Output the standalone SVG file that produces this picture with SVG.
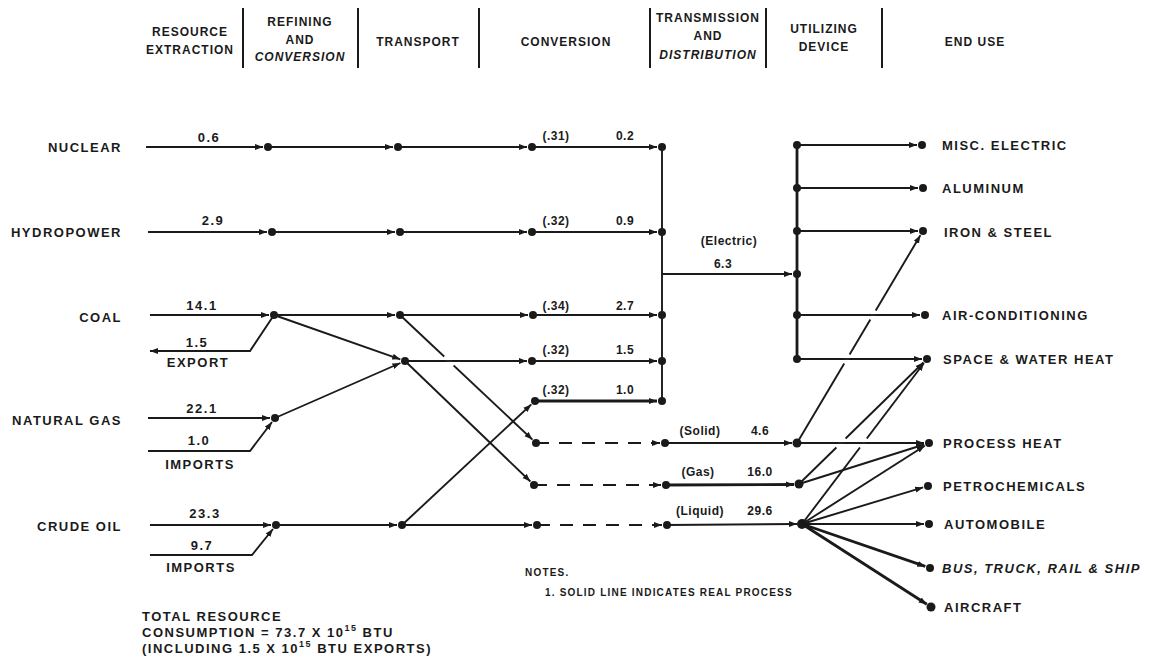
<svg xmlns="http://www.w3.org/2000/svg" width="1150" height="670" viewBox="0 0 1150 670">
<defs>
<marker id="arr" markerUnits="userSpaceOnUse" markerWidth="9" markerHeight="7" refX="8" refY="3.5" orient="auto">
<path d="M0,0.5 L8,3.5 L0,6.5 z" fill="#1a1a1a"/>
</marker>
<style>
.ln{stroke:#1a1a1a;stroke-width:1.9;fill:none}
.hv{stroke-width:2.8}
.da{stroke-dasharray:13 10}
.gap{stroke:#ffffff;stroke-width:4;fill:none}
.dot{fill:#1a1a1a}
.t{font-family:"Liberation Sans",Arial,Helvetica,sans-serif;font-weight:bold;font-size:13px;letter-spacing:1.5px;fill:#1a1a1a}
.h{font-size:12px;letter-spacing:1px}
.s{font-size:12px;letter-spacing:0.5px}
.n{font-size:10px;letter-spacing:1.2px}
.i{font-style:italic}
.m{text-anchor:middle}
.e{text-anchor:end}
.div{stroke:#1a1a1a;stroke-width:2}
</style>
</defs>
<rect width="1150" height="670" fill="#ffffff"/>

<g id="header">
<line class="div" x1="243" y1="8" x2="243" y2="68"/>
<line class="div" x1="358" y1="8" x2="358" y2="68"/>
<line class="div" x1="479" y1="8" x2="479" y2="68"/>
<line class="div" x1="650" y1="8" x2="650" y2="68"/>
<line class="div" x1="766" y1="8" x2="766" y2="68"/>
<line class="div" x1="882" y1="8" x2="882" y2="68"/>
<text class="t h m" x="190" y="36">RESOURCE</text>
<text class="t h m" x="190" y="54">EXTRACTION</text>
<text class="t h m" x="300" y="26">REFINING</text>
<text class="t h m" x="300" y="44">AND</text>
<text class="t h m i" x="300" y="61">CONVERSION</text>
<text class="t h m" x="418" y="46">TRANSPORT</text>
<text class="t h m" x="566" y="46">CONVERSION</text>
<text class="t h m" x="708" y="22">TRANSMISSION</text>
<text class="t h m" x="708" y="40">AND</text>
<text class="t h m i" x="708" y="59">DISTRIBUTION</text>
<text class="t h m" x="824" y="33">UTILIZING</text>
<text class="t h m" x="824" y="51">DEVICE</text>
<text class="t h m" x="975" y="46">END USE</text>
</g>

<g id="connectors">
<!-- nuclear -->
<line class="ln" x1="146" y1="147" x2="263" y2="147" marker-end="url(#arr)"/>
<line class="ln" x1="268" y1="147" x2="393" y2="147" marker-end="url(#arr)"/>
<line class="ln" x1="398" y1="147" x2="527" y2="147" marker-end="url(#arr)"/>
<line class="ln" x1="532" y1="147" x2="657" y2="147" marker-end="url(#arr)"/>
<!-- hydro -->
<line class="ln" x1="148" y1="232" x2="267" y2="232" marker-end="url(#arr)"/>
<line class="ln" x1="272" y1="232" x2="395" y2="232" marker-end="url(#arr)"/>
<line class="ln" x1="400" y1="232" x2="527" y2="232" marker-end="url(#arr)"/>
<line class="ln" x1="532" y1="232" x2="657" y2="232" marker-end="url(#arr)"/>
<!-- coal -->
<line class="ln" x1="150" y1="315" x2="269" y2="315" marker-end="url(#arr)"/>
<path class="ln" d="M274,315 L250,351 L150,351" marker-end="url(#arr)"/>
<line class="ln" x1="274" y1="315" x2="395" y2="315" marker-end="url(#arr)"/>
<line class="ln" x1="274" y1="315" x2="400.3" y2="359.3" marker-end="url(#arr)"/>
<line class="ln" x1="400" y1="315" x2="528" y2="315" marker-end="url(#arr)"/>
<line class="ln" x1="533" y1="315" x2="657" y2="315" marker-end="url(#arr)"/>
<line class="ln" x1="400" y1="315" x2="532.4" y2="439.6" marker-end="url(#arr)"/>
<!-- natural gas -->
<line class="ln" x1="148" y1="418" x2="270" y2="418" marker-end="url(#arr)"/>
<path class="ln" d="M148,451 L250,451 L272,422" marker-end="url(#arr)"/>
<line class="ln" x1="275" y1="418" x2="400.4" y2="363" marker-end="url(#arr)"/>
<line class="ln" x1="405" y1="361" x2="527" y2="361" marker-end="url(#arr)"/>
<line class="ln" x1="532" y1="361" x2="657" y2="361" marker-end="url(#arr)"/>
<line class="ln" x1="405" y1="361" x2="530.4" y2="481.5" marker-end="url(#arr)"/>
<!-- crude oil -->
<line class="ln" x1="150" y1="525" x2="271" y2="525" marker-end="url(#arr)"/>
<path class="ln" d="M150,555 L252,555 L273,529" marker-end="url(#arr)"/>
<line class="ln" x1="276" y1="525" x2="397" y2="525" marker-end="url(#arr)"/>
<line class="ln" x1="402" y1="525" x2="531.3" y2="404.4" marker-end="url(#arr)"/>
<line class="ln hv" x1="535" y1="401" x2="657" y2="401" marker-end="url(#arr)"/>
<line class="ln" x1="402" y1="525" x2="532" y2="525" marker-end="url(#arr)"/>
<!-- dashed distribution -->
<line class="ln da" x1="536" y1="443" x2="660" y2="443" marker-end="url(#arr)"/>
<line class="ln da" x1="534" y1="485" x2="661" y2="485" marker-end="url(#arr)"/>
<line class="ln da" x1="537" y1="525" x2="662" y2="525" marker-end="url(#arr)"/>
<line class="ln" x1="665" y1="443" x2="792" y2="443" marker-end="url(#arr)"/>
<line class="ln hv" x1="666" y1="485" x2="794" y2="484.5" marker-end="url(#arr)"/>
<line class="ln" x1="667" y1="525" x2="797" y2="524" marker-end="url(#arr)"/>
<!-- electric bus -->
<line class="ln" x1="662" y1="147" x2="662" y2="401"/>
<line class="ln" x1="662" y1="274" x2="792" y2="274" marker-end="url(#arr)"/>
<line class="ln hv" x1="797" y1="145" x2="797" y2="359"/>
<line class="ln" x1="797" y1="145" x2="917" y2="145" marker-end="url(#arr)"/>
<line class="ln" x1="797" y1="188" x2="918" y2="188" marker-end="url(#arr)"/>
<line class="ln" x1="797" y1="231" x2="918" y2="231" marker-end="url(#arr)"/>
<line class="ln" x1="797" y1="315" x2="920" y2="315" marker-end="url(#arr)"/>
<line class="ln" x1="797" y1="359" x2="922" y2="359" marker-end="url(#arr)"/>
<!-- end use fan -->
<line class="ln" x1="797" y1="443" x2="920.4" y2="235.3" marker-end="url(#arr)"/>
<line class="ln" x1="797" y1="443" x2="924" y2="443" marker-end="url(#arr)"/>
<line class="ln" x1="799" y1="484" x2="924.2" y2="444.5" marker-end="url(#arr)"/>
<line class="ln" x1="799" y1="484" x2="923.4" y2="362.5" marker-end="url(#arr)"/>
<line class="ln" x1="802" y1="524" x2="924" y2="363" marker-end="url(#arr)"/>
<line class="ln" x1="802" y1="524" x2="924.8" y2="445.7" marker-end="url(#arr)"/>
<line class="ln" x1="802" y1="524" x2="923.2" y2="487.4" marker-end="url(#arr)"/>
<line class="ln" x1="802" y1="524" x2="924" y2="524" marker-end="url(#arr)"/>
<line class="ln hv" x1="802" y1="524" x2="925.3" y2="566.4" marker-end="url(#arr)"/>
<line class="ln hv" x1="802" y1="524" x2="926.8" y2="604.3" marker-end="url(#arr)"/>
<!-- crossing gaps (line passes over without joining) -->
<line class="gap" x1="444.2" y1="356.5" x2="453.6" y2="365.5"/>
<line class="ln" x1="440" y1="361" x2="458" y2="361"/>
<line class="gap" x1="849.6" y1="354.5" x2="844.2" y2="363.5"/>
<line class="ln" x1="840" y1="359" x2="854" y2="359"/>
<line class="gap" x1="875.7" y1="310.5" x2="870.3" y2="319.5"/>
<line class="ln" x1="866" y1="315" x2="880" y2="315"/>
<line class="gap" x1="845.6" y1="438.5" x2="836.4" y2="447.5"/>
<line class="ln" x1="833" y1="443" x2="849" y2="443"/>
<line class="gap" x1="866.8" y1="438.5" x2="860" y2="447.5"/>
<line class="ln" x1="856" y1="443" x2="871" y2="443"/>
</g>

<g id="src-nuclear"><text class="t e" x="122" y="152">NUCLEAR</text><text class="t m" x="209" y="142">0.6</text></g>
<g id="src-hydro"><text class="t e" x="122" y="237">HYDROPOWER</text><text class="t m" x="213" y="225">2.9</text></g>
<g id="src-coal"><text class="t e" x="122" y="322">COAL</text><text class="t m" x="202" y="310">14.1</text><text class="t m" x="197" y="347">1.5</text><text class="t m" x="198" y="367">EXPORT</text></g>
<g id="src-gas"><text class="t e" x="122" y="425">NATURAL GAS</text><text class="t m" x="202" y="413">22.1</text><text class="t m" x="199" y="445">1.0</text><text class="t m" x="200" y="469">IMPORTS</text></g>
<g id="src-oil"><text class="t e" x="122" y="531">CRUDE OIL</text><text class="t m" x="205" y="518">23.3</text><text class="t m" x="202" y="550">9.7</text><text class="t m" x="201" y="572">IMPORTS</text></g>

<g id="refining">
<circle class="dot" cx="268" cy="147" r="4"/><circle class="dot" cx="272" cy="232" r="4"/>
<circle class="dot" cx="274" cy="315" r="4"/><circle class="dot" cx="275" cy="418" r="4"/>
<circle class="dot" cx="276" cy="525" r="4"/>
</g>
<g id="transport">
<circle class="dot" cx="398" cy="147" r="4"/><circle class="dot" cx="400" cy="232" r="4"/>
<circle class="dot" cx="400" cy="315" r="4"/><circle class="dot" cx="405" cy="361" r="4"/>
<circle class="dot" cx="402" cy="525" r="4"/>
</g>
<g id="conversion">
<circle class="dot" cx="532" cy="147" r="4"/><circle class="dot" cx="532" cy="232" r="4"/>
<circle class="dot" cx="533" cy="315" r="4"/><circle class="dot" cx="532" cy="361" r="4"/>
<circle class="dot" cx="535" cy="401" r="4"/>
<circle class="dot" cx="536" cy="443" r="4"/><circle class="dot" cx="534" cy="485" r="4"/>
<circle class="dot" cx="537" cy="525" r="4"/>
<text class="t s m" x="556" y="140">(.31)</text><text class="t s m" x="625" y="140">0.2</text>
<text class="t s m" x="556" y="225">(.32)</text><text class="t s m" x="625" y="225">0.9</text>
<text class="t s m" x="556" y="310">(.34)</text><text class="t s m" x="625" y="310">2.7</text>
<text class="t s m" x="556" y="354">(.32)</text><text class="t s m" x="625" y="354">1.5</text>
<text class="t s m" x="556" y="394">(.32)</text><text class="t s m" x="625" y="394">1.0</text>
</g>
<g id="transmission">
<circle class="dot" cx="662" cy="147" r="4"/><circle class="dot" cx="662" cy="232" r="4"/>
<circle class="dot" cx="662" cy="315" r="4"/><circle class="dot" cx="662" cy="361" r="4"/>
<circle class="dot" cx="662" cy="401" r="4"/>
<circle class="dot" cx="665" cy="443" r="4"/><circle class="dot" cx="666" cy="485" r="4"/>
<circle class="dot" cx="667" cy="525" r="4"/>
<text class="t s m" x="729" y="245">(Electric)</text><text class="t s m" x="723" y="268">6.3</text>
<text class="t s m" x="700" y="435">(Solid)</text><text class="t s m" x="760" y="435">4.6</text>
<text class="t s m" x="698" y="476">(Gas)</text><text class="t s m" x="760" y="476">16.0</text>
<text class="t s m" x="700" y="515">(Liquid)</text><text class="t s m" x="760" y="515">29.6</text>
</g>
<g id="devices">
<circle class="dot" cx="797" cy="145" r="4"/><circle class="dot" cx="797" cy="188" r="4"/>
<circle class="dot" cx="797" cy="231" r="4"/><circle class="dot" cx="797" cy="274" r="4"/>
<circle class="dot" cx="797" cy="315" r="4"/><circle class="dot" cx="797" cy="359" r="4"/>
<circle class="dot" cx="797" cy="443" r="4.5"/><circle class="dot" cx="799" cy="484" r="4.5"/>
<circle class="dot" cx="802" cy="524" r="5"/>
</g>

<g id="use-misc"><circle class="dot" cx="922" cy="145" r="4"/><text class="t" x="942" y="150">MISC. ELECTRIC</text></g>
<g id="use-aluminum"><circle class="dot" cx="923" cy="188" r="4"/><text class="t" x="942" y="193">ALUMINUM</text></g>
<g id="use-iron"><circle class="dot" cx="923" cy="231" r="4"/><text class="t" x="944" y="237">IRON &amp; STEEL</text></g>
<g id="use-ac"><circle class="dot" cx="925" cy="315" r="4"/><text class="t" x="942" y="320">AIR-CONDITIONING</text></g>
<g id="use-space"><circle class="dot" cx="927" cy="359" r="4"/><text class="t" x="943" y="364">SPACE &amp; WATER HEAT</text></g>
<g id="use-process"><circle class="dot" cx="929" cy="443" r="4"/><text class="t" x="943" y="448">PROCESS HEAT</text></g>
<g id="use-petro"><circle class="dot" cx="928" cy="486" r="4"/><text class="t" x="943" y="491">PETROCHEMICALS</text></g>
<g id="use-auto"><circle class="dot" cx="929" cy="524" r="4"/><text class="t" x="944" y="529">AUTOMOBILE</text></g>
<g id="use-bus"><circle class="dot" cx="930" cy="568" r="4"/><text class="t i" x="942" y="573">BUS, TRUCK, RAIL &amp; SHIP</text></g>
<g id="use-aircraft"><circle class="dot" cx="931" cy="607" r="4.5"/><text class="t" x="944" y="612">AIRCRAFT</text></g>

<g id="notes">
<text class="t n" x="525" y="576">NOTES.</text>
<text class="t n" x="545" y="596">1.  SOLID LINE INDICATES REAL PROCESS</text>
</g>
<g id="total">
<text class="t" x="142" y="621">TOTAL RESOURCE</text>
<text class="t" x="142" y="637">CONSUMPTION = 73.7 X 10<tspan font-size="9" dy="-6">15</tspan><tspan dy="6"> BTU</tspan></text>
<text class="t" x="142" y="653">(INCLUDING 1.5 X 10<tspan font-size="9" dy="-6">15</tspan><tspan dy="6"> BTU EXPORTS)</tspan></text>
</g>
</svg>
